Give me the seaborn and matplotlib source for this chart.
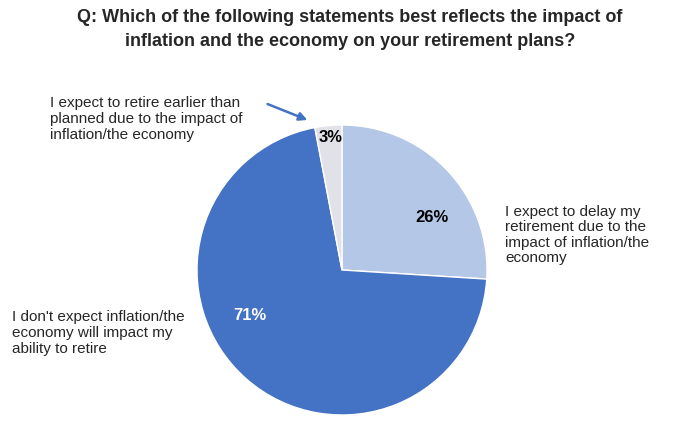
import matplotlib
matplotlib.use("Agg")
import matplotlib.pyplot as plt
import seaborn as sns

labels = ["I expect to delay my\nretirement due to the\nimpact of inflation/the\neconomy",
          "I don't expect inflation/the\neconomy will impact my\nability to retire",
          "I expect to retire earlier than\nplanned due to the impact of\ninflation/the economy"]
values = [26, 71, 3]
pct_labels = ["26%", "71%", "3%"]
colors = ["#B4C7E7", "#4472C4", "#E1E1E8"]

sns.set_theme(style="white")
H = 436
fig = plt.figure(figsize=(7, 4.36), dpi=100)
ax = fig.add_axes([0, 0, 1, 1])
ax.set_xlim(0, 700); ax.set_ylim(0, H); ax.set_aspect("equal"); ax.axis("off")

cx, cy, r = 342, H - 270, 145
ax.pie(values, colors=colors, startangle=90, counterclock=False,
       center=(cx, cy), radius=r, frame=True,
       wedgeprops=dict(edgecolor="white", linewidth=1))
ax.set_xlim(0, 700); ax.set_ylim(0, H); ax.axis("off")

fn = "Liberation Sans"
ax.text(350, H - 18, "Q: Which of the following statements best reflects the impact of",
        ha="center", va="center", fontsize=13, fontweight="bold", family=fn)
ax.text(350, H - 42, "inflation and the economy on your retirement plans?",
        ha="center", va="center", fontsize=13, fontweight="bold", family=fn)

pct_pos = [(432, 218), (250, 315), (331, 138)]
for (x, y), t in zip(pct_pos, pct_labels):
    ax.text(x, H - y, t, ha="center", va="center", fontsize=12, fontweight="bold",
            color="white" if t == "71%" else "black", family=fn)

ax.text(505, H - 235, labels[0], ha="left", va="center", fontsize=11, family=fn, linespacing=1.15)
ax.text(12, H - 333, labels[1], ha="left", va="center", fontsize=11, family=fn, linespacing=1.15)
ax.text(50, H - 119, labels[2], ha="left", va="center", fontsize=11, family=fn, linespacing=1.15)

ax.annotate("", xy=(310, H - 121), xytext=(265, H - 103),
            arrowprops=dict(arrowstyle="-|>", color="#4472C4", lw=1.8, mutation_scale=12))

fig.savefig("out.png", dpi=100)
